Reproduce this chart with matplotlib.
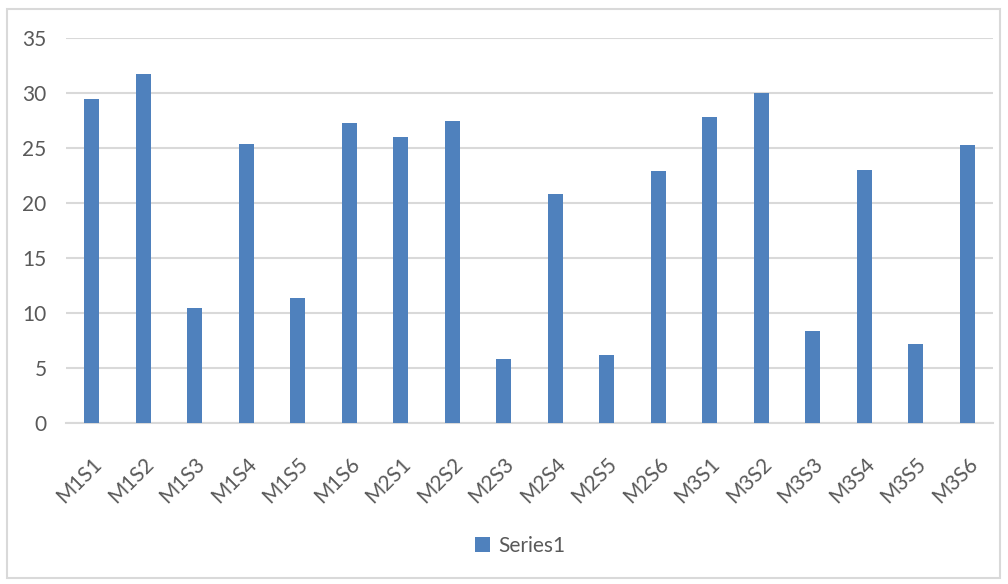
import matplotlib
matplotlib.use("Agg")
import matplotlib.pyplot as plt
from matplotlib.patches import Rectangle

categories = ["M1S1", "M1S2", "M1S3", "M1S4", "M1S5", "M1S6",
              "M2S1", "M2S2", "M2S3", "M2S4", "M2S5", "M2S6",
              "M3S1", "M3S2", "M3S3", "M3S4", "M3S5", "M3S6"]
series1 = [29.5, 31.7, 10.5, 25.4, 11.4, 27.3,
           26.0, 27.5, 5.8, 20.8, 6.2, 22.9,
           27.8, 30.0, 8.4, 23.0, 7.2, 25.3]
yticks = [0, 5, 10, 15, 20, 25, 30, 35]

plt.rcParams['font.family'] = ['Lato', 'DejaVu Sans']
txt = '#595959'

fig = plt.figure(figsize=(10.08, 5.84), dpi=100)
ax = fig.add_axes([66/1008, 1-423/584, (993-66)/1008, (423-38)/584])

x = list(range(len(categories)))
ax.bar(x, series1, width=0.3, color='#4f81bd', label='Series1', zorder=3)
ax.set_xlim(-0.5, len(categories)-0.5)
ax.set_ylim(0, 35)
ax.set_yticks(yticks)
ax.set_yticklabels([str(v) for v in yticks], fontsize=15, color=txt)
ax.set_xticks(x)
ax.set_xticklabels(categories, rotation=45, ha='right', rotation_mode='anchor',
                   fontsize=15, color=txt)
ax.tick_params(axis='both', length=0)
ax.tick_params(axis='y', pad=14)
ax.tick_params(axis='x', pad=22)
ax.grid(axis='y', color='#d9d9d9', linewidth=1.5, zorder=0)
for s in ['top', 'right', 'left']:
    ax.spines[s].set_visible(False)
ax.spines['bottom'].set_color('#d9d9d9')
ax.spines['bottom'].set_linewidth(1.5)

leg = fig.legend(loc='center', bbox_to_anchor=(520/1008, 1-546/584), frameon=False,
                 fontsize=15, handlelength=0.7, handleheight=0.7, handletextpad=0.4)
for t in leg.get_texts():
    t.set_color(txt)

fig.patches.append(Rectangle((7/1008, 1-578/584), (1000-7)/1008, (578-9)/584,
                             transform=fig.transFigure, fill=False,
                             edgecolor='#d9d9d9', linewidth=1.5))
fig.savefig('out.png', dpi=100, facecolor='white')
